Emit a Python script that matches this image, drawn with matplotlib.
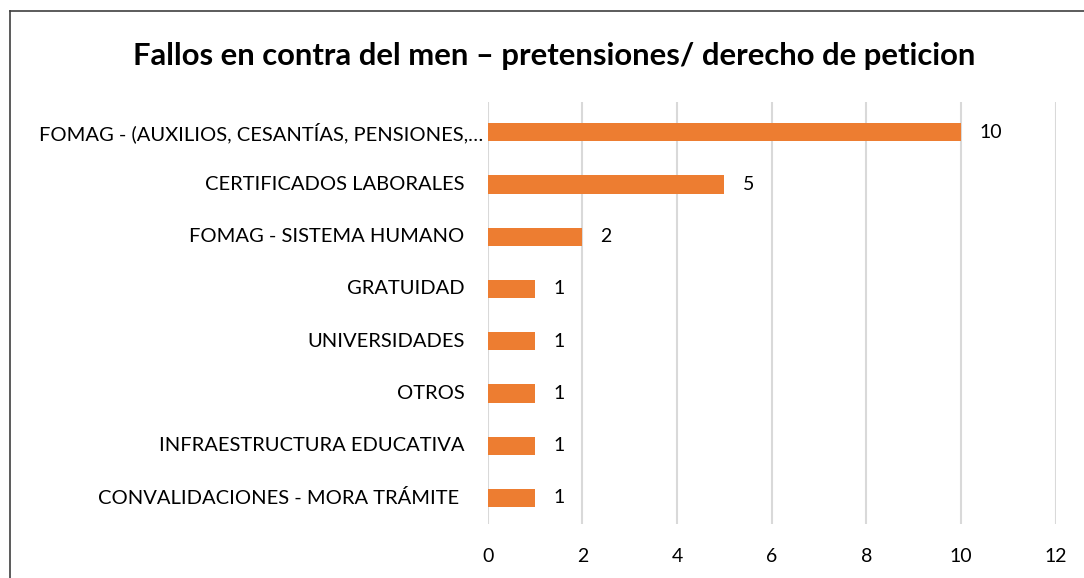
import matplotlib.pyplot as plt
from matplotlib.lines import Line2D

categorias = [
    'FOMAG - (AUXILIOS, CESANTÍAS, PENSIONES,…',
    'CERTIFICADOS LABORALES',
    'FOMAG - SISTEMA HUMANO',
    'GRATUIDAD',
    'UNIVERSIDADES',
    'OTROS',
    'INFRAESTRUCTURA EDUCATIVA',
    'CONVALIDACIONES - MORA TRÁMITE',
]
valores = [10, 5, 2, 1, 1, 1, 1, 1]
ticks_x = [0, 2, 4, 6, 8, 10, 12]

plt.rcParams['font.family'] = ['Lato', 'DejaVu Sans']

fig = plt.figure(figsize=(10.84, 5.78), dpi=100)
ax = fig.add_axes([0.450, 0.0934, 0.524, 0.7301])

# marco del grafico (sale por la derecha y abajo)
x0 = 10 / 1084
y0 = 1 - 11 / 578
fig.add_artist(Line2D([x0, x0], [0, y0], transform=fig.transFigure, color='#3f3f3f', lw=1.2))
fig.add_artist(Line2D([x0, 1], [y0, y0], transform=fig.transFigure, color='#3f3f3f', lw=1.2))

pos = list(range(len(categorias)))[::-1]
ax.barh(pos, valores, height=0.35, color='#ED7D31', zorder=3)

for p, v in zip(pos, valores):
    ax.text(v + 0.38, p, str(v), va='center', ha='left', fontsize=14, color='#000000')

# etiquetas de categoria (la primera va recortada y mas pegada al eje)
for i, (p, c) in enumerate(zip(pos, categorias)):
    off = -0.105 if i == 0 else -0.49
    if c.startswith('CONVALIDACIONES'):
        off = -0.61
    ax.text(off, p, c, va='center', ha='right', fontsize=14.5, color='#000000')

ax.set_xlim(0, 12)
ax.set_ylim(-0.5, 7.58)
ax.set_xticks(ticks_x)
ax.set_yticks([])
ax.tick_params(axis='x', labelsize=14, length=0, pad=17)
ax.grid(axis='x', color='#d9d9d9', linewidth=1.5, zorder=0)
for s in ax.spines.values():
    s.set_visible(False)

fig.text(0.511, 0.903, 'Fallos en contra del men – pretensiones/ derecho de peticion',
         ha='center', va='center', fontsize=22.3, fontweight='bold')

fig.savefig('out.png', dpi=100)
